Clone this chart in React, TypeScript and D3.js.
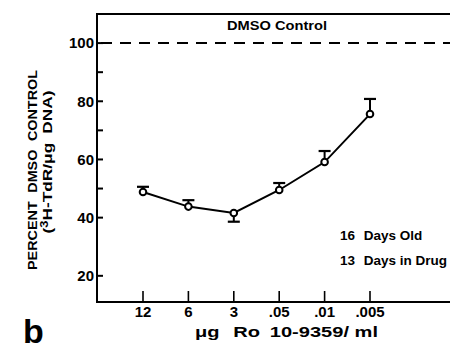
import React from "react";
import * as d3 from "d3";

const categories = ["12", "6", "3", ".05", ".01", ".005"];
const values = [48.8, 43.8, 41.6, 49.5, 59.1, 75.6];
const errors = [1.8, 2.2, -3.0, 2.4, 3.8, 5.2];
const majorTicks = [100, 80, 60, 40, 20];
const minorTicks = [90, 70, 50];
const controlValue = 100;

const W = 450;
const H = 351;
const left = 97;
const top = 14;
const bottom = 302;
const font = "'Liberation Sans', Arial, sans-serif";

export default function App() {
  const y = d3.scaleLinear().domain([11, 110]).range([bottom, top]);
  const x = d3.scalePoint<string>().domain(categories).range([143, 370]);
  const pts = categories.map((c, i) => [x(c) as number, y(values[i])] as [number, number]);
  const line = d3.line<[number, number]>()(pts) as string;

  return (
    <svg width={W} height={H} style={{ position: "fixed", left: 0, top: 0, background: "#fff" }}>
      <rect x={0} y={0} width={W} height={H} fill="#fff" />
      {/* frame */}
      <line x1={left} y1={top} x2={W} y2={top} stroke="#000" strokeWidth={2} />
      <line x1={left} y1={top - 1} x2={left} y2={bottom + 1} stroke="#000" strokeWidth={2} />
      <line x1={left - 1} y1={bottom} x2={W} y2={bottom} stroke="#000" strokeWidth={2} />
      {/* y ticks */}
      {majorTicks.map((t) => (
        <g key={t}>
          <line x1={left} x2={left + 6} y1={y(t)} y2={y(t)} stroke="#000" strokeWidth={2} />
          <text x={left - 3} y={y(t)} dy="0.36em" textAnchor="end" fontFamily={font} fontWeight="bold" fontSize={15}>{t}</text>
        </g>
      ))}
      {minorTicks.map((t) => (
        <line key={t} x1={left} x2={left + 6} y1={y(t)} y2={y(t)} stroke="#000" strokeWidth={2} />
      ))}
      {/* x ticks */}
      {categories.map((c) => (
        <g key={c}>
          <line x1={x(c)} x2={x(c)} y1={bottom} y2={bottom - 11} stroke="#000" strokeWidth={1.6} />
          <text x={x(c)} y={317} textAnchor="middle" fontFamily={font} fontWeight="bold" fontSize={15}>{c}</text>
        </g>
      ))}
      {/* control dashed line */}
      <line x1={left + 4} x2={W} y1={y(controlValue)} y2={y(controlValue)} stroke="#000" strokeWidth={2} strokeDasharray="11 8" />
      <text x={227} y={30} fontFamily={font} fontWeight="bold" fontSize={13.5} textLength={100} lengthAdjust="spacingAndGlyphs">DMSO Control</text>
      {/* error bars */}
      {pts.map(([px, py], i) => {
        const ye = y(values[i] + errors[i]);
        return (
          <g key={i}>
            <line x1={px} x2={px} y1={py} y2={ye} stroke="#000" strokeWidth={2} />
            <line x1={px - 6} x2={px + 6} y1={ye} y2={ye} stroke="#000" strokeWidth={2.2} />
          </g>
        );
      })}
      <path d={line} fill="none" stroke="#000" strokeWidth={2} />
      {pts.map(([px, py], i) => (
        <circle key={i} cx={px} cy={py} r={3.3} fill="#fff" stroke="#000" strokeWidth={2} />
      ))}
      {/* legend text */}
      <text x={340} y={240} fontFamily={font} fontWeight="bold" fontSize={13.5}>16 <tspan dx={5}>Days Old</tspan></text>
      <text x={340} y={265} fontFamily={font} fontWeight="bold" fontSize={13.5}>13 <tspan dx={5}>Days in Drug</tspan></text>
      {/* axis titles */}
      <text x={195} y={337} fontFamily={font} fontWeight="bold" fontSize={14.5} textLength={183} lengthAdjust="spacingAndGlyphs">
        μg<tspan dx={10}>Ro</tspan><tspan dx={7}>10-9359/ ml</tspan>
      </text>
      <text transform="translate(37,170) rotate(-90)" textAnchor="middle" fontFamily={font} fontWeight="bold" fontSize={13.5} textLength={200} lengthAdjust="spacingAndGlyphs">
        PERCENT<tspan dx={8}>DMSO</tspan><tspan dx={8}>CONTROL</tspan>
      </text>
      <text transform="translate(52,162) rotate(-90)" textAnchor="middle" fontFamily={font} fontWeight="bold" fontSize={13.5} textLength={143} lengthAdjust="spacingAndGlyphs">
        (<tspan dy={-4} fontSize={10}>3</tspan><tspan dy={4}>H-TdR/μg</tspan><tspan dx={7}>DNA)</tspan>
      </text>
      <text x={23} y={343} fontFamily={font} fontWeight="bold" fontSize={34}>b</text>
    </svg>
  );
}
